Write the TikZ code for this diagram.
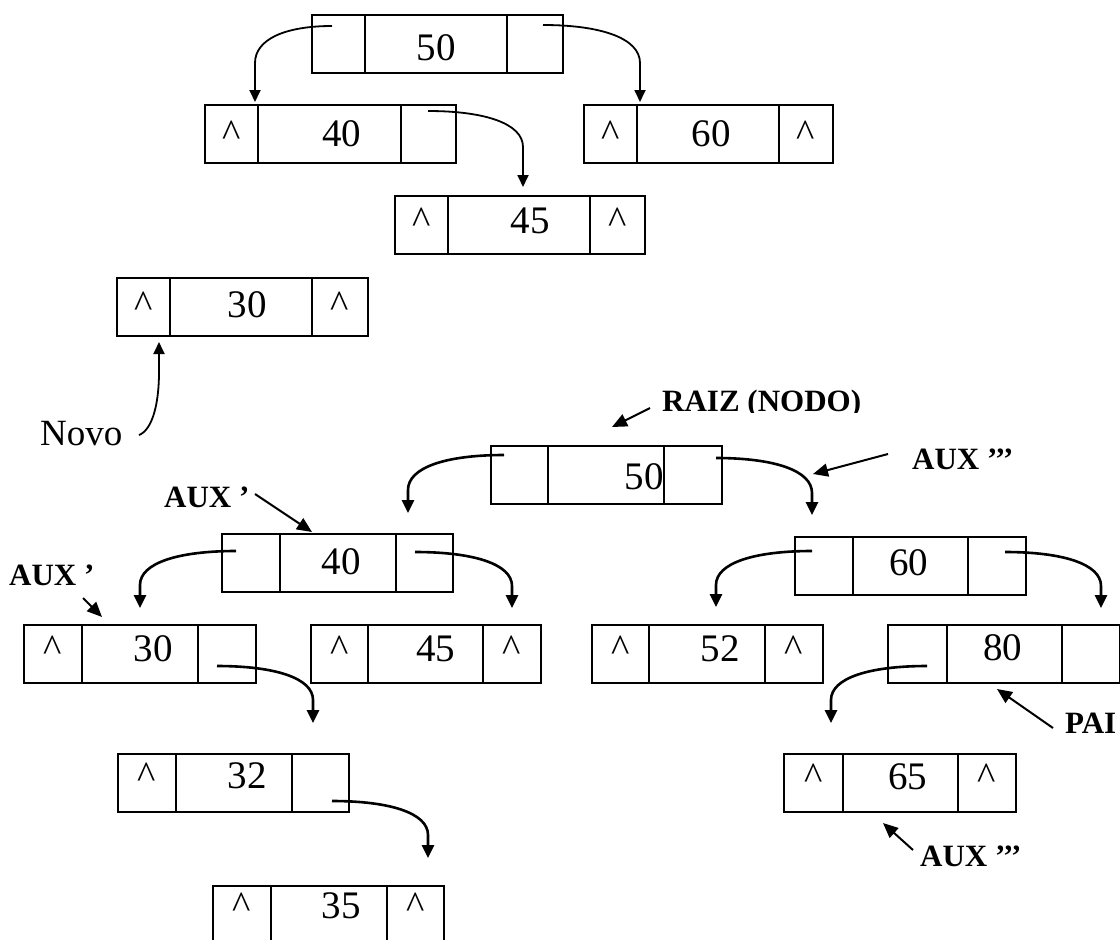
\documentclass[tikz,border=0pt]{standalone}
\usepackage{fontspec}
\setmainfont{Liberation Serif}
\usetikzlibrary{arrows.meta,calc}
\newcommand\cc{\textasciicircum}
% box cells: name, x, top, w1, w2, w3
\newcommand\bx[6]{%
  \node[cell, minimum width=#4pt] (#1l) at (#2,#3) {};
  \node[cell, minimum width=#5pt] (#1m) at (#1l.north east) {};
  \node[cell, minimum width=#6pt] (#1r) at (#1m.north east) {};}
% box texts: name, baseline offset, left, middle, middle x offset, right
\newcommand\bt[6]{%
  \node[num] (#1tl) at ($(#1l.north)+(0,#2)$) {#3};
  \node[num] (#1tm) at ($(#1m.north)+(#5,#2)$) {#4};
  \node[num] (#1tr) at ($(#1r.north)+(0,#2)$) {#6};}
% curved pointer: style, start, begin of vertical part, tip
\newcommand\carc[4]{%
  \draw[#1] (#2) .. controls ($(#2)!0.6!(#3 |- #2)$) and ($(#3)!0.65!(#3 |- #2)$) .. (#3) -- (#4);}
\begin{document}
\begin{tikzpicture}[x=1pt,y=-1pt,
  cell/.style={draw, line width=2pt, minimum height=58pt, inner sep=0pt, outer sep=0pt, anchor=north west},
  num/.style={font=\fontsize{39}{44}\selectfont, inner sep=0pt, anchor=base},
  lbl/.style={font=\fontsize{31}{36}\selectfont\bfseries, inner sep=0pt, anchor=base west},
  carr/.style={line width=1.8pt, -{Triangle[length=12pt,width=11pt]}},
  carrb/.style={line width=2.6pt, -{Triangle[length=13pt,width=12pt]}},
  larr/.style={line width=2pt, -{Triangle[length=15pt,width=13pt]}}]
\useasboundingbox (0,0) rectangle (1120,940);
\fill[white] (0,0) rectangle (1120,940);
\clip (0,0) rectangle (1120,940);

% ---------- upper tree ----------
\bx{T50}{312}{15}{53}{142}{56}   \bt{T50}{45}{}{50}{0}{}
\bx{T40}{205}{105}{53}{143}{55}  \bt{T40}{41}{\cc}{40}{12}{}
\bx{T60}{584}{105}{53}{142}{54}  \bt{T60}{41}{\cc}{60}{3}{\cc}
\bx{T45}{395}{196}{53}{142}{55}  \bt{T45}{37}{\cc}{45}{11}{\cc}
\bx{T30}{117}{278}{53}{142}{56}  \bt{T30}{39}{\cc}{30}{6}{\cc}

\coordinate (a1s) at (332,26);  \coordinate (a1v) at (255,63);  \coordinate (a1t) at (255,102);
\coordinate (a2s) at (543,25);  \coordinate (a2v) at (640,63);  \coordinate (a2t) at (640,102);
\coordinate (a3s) at (428,111); \coordinate (a3v) at (523,147); \coordinate (a3t) at (523,187);
\carc{carr}{a1s}{a1v}{a1t}
\carc{carr}{a2s}{a2v}{a2t}
\carc{carr}{a3s}{a3v}{a3t}

\node[num, anchor=base west, font=\fontsize{37}{42}\selectfont] (novo) at (40,445) {Novo};
\coordinate (nvs) at (139,435); \coordinate (nvv) at (159,372); \coordinate (nvt) at (159,342);
\draw[carr] (nvs) .. controls (152,430) and (159,405) .. (nvv) -- (nvt);

% ---------- lower tree ----------
\bx{B50}{491}{446}{57}{116}{58}  \bt{B50}{43}{}{50}{38}{}
\bx{B40}{222}{534}{58}{116}{57}  \bt{B40}{40}{}{40}{3}{}
\bx{B60}{795}{537}{58}{115}{58}  \bt{B60}{38}{}{60}{-2}{}
\bx{B30}{24}{625}{58}{116}{58}   \bt{B30}{36}{\cc}{30}{13}{}
\bx{B45}{311}{625}{57}{115}{58}  \bt{B45}{36}{\cc}{45}{10}{\cc}
\bx{B52}{592}{625}{57}{116}{58}  \bt{B52}{36}{\cc}{52}{13}{\cc}
\bx{B80}{888}{625}{59}{115}{58}  \bt{B80}{35}{}{80}{-2}{}
\bx{B65}{784}{754}{59}{115}{58}  \bt{B65}{35}{\cc}{65}{7}{\cc}
\bx{B32}{118}{754}{58}{116}{57}  \bt{B32}{34}{\cc}{32}{13}{}
\bx{B35}{213}{886}{58}{116}{57}  \bt{B35}{32}{\cc}{35}{12}{\cc}

\coordinate (b1s) at (504,455);  \coordinate (b1v) at (408,490);  \coordinate (b1t) at (408,513);
\coordinate (b2s) at (716,458);  \coordinate (b2v) at (812,493);  \coordinate (b2t) at (812,515);
\coordinate (b3s) at (236,551);  \coordinate (b3v) at (140,585);  \coordinate (b3t) at (140,608);
\coordinate (b4s) at (415,552);  \coordinate (b4v) at (512,586);  \coordinate (b4t) at (512,608);
\coordinate (b5s) at (812,551);  \coordinate (b5v) at (716,585);  \coordinate (b5t) at (716,607);
\coordinate (b6s) at (1005,552); \coordinate (b6v) at (1101,586); \coordinate (b6t) at (1101,608);
\coordinate (b7s) at (217,666);  \coordinate (b7v) at (313,700);  \coordinate (b7t) at (313,723);
\coordinate (b8s) at (927,666);  \coordinate (b8v) at (831,700);  \coordinate (b8t) at (831,723);
\coordinate (b9s) at (332,801);  \coordinate (b9v) at (428,835);  \coordinate (b9t) at (428,858);
\carc{carrb}{b1s}{b1v}{b1t}
\carc{carrb}{b2s}{b2v}{b2t}
\carc{carrb}{b3s}{b3v}{b3t}
\carc{carrb}{b4s}{b4v}{b4t}
\carc{carrb}{b5s}{b5v}{b5t}
\carc{carrb}{b6s}{b6v}{b6t}
\carc{carrb}{b7s}{b7v}{b7t}
\carc{carrb}{b8s}{b8v}{b8t}
\carc{carrb}{b9s}{b9v}{b9t}

% ---------- labels ----------
\begin{scope}
  \clip (600,380) rectangle (900,412.5);
  \node[lbl] (raiz) at (662,411) {RAIZ (NODO)};
\end{scope}
\node[lbl] (auxA) at (912,469) {AUX ’’’};
\node[lbl] (auxB) at (164,507) {AUX ’};
\node[lbl] (auxC) at (9,585) {AUX ’};
\node[lbl] (pai) at (1065,733) {PAI};
\node[lbl] (auxD) at (920,866) {AUX ’’’};

\coordinate (r1) at (650,408);  \coordinate (r2) at (612,427);
\coordinate (x1) at (888,454);  \coordinate (x2) at (813,474);
\coordinate (y1) at (255,494);  \coordinate (y2) at (312,532);
\coordinate (z1) at (83,598);   \coordinate (z2) at (102,617);
\coordinate (p1) at (1053,728); \coordinate (p2) at (997,689);
\coordinate (w1) at (913,850);  \coordinate (w2) at (883,823);
\draw[larr] (r1) -- (r2);
\draw[larr] (x1) -- (x2);
\draw[larr] (y1) -- (y2);
\draw[larr] (z1) -- (z2);
\draw[larr] (p1) -- (p2);
\draw[larr] (w1) -- (w2);
\end{tikzpicture}
\end{document}
